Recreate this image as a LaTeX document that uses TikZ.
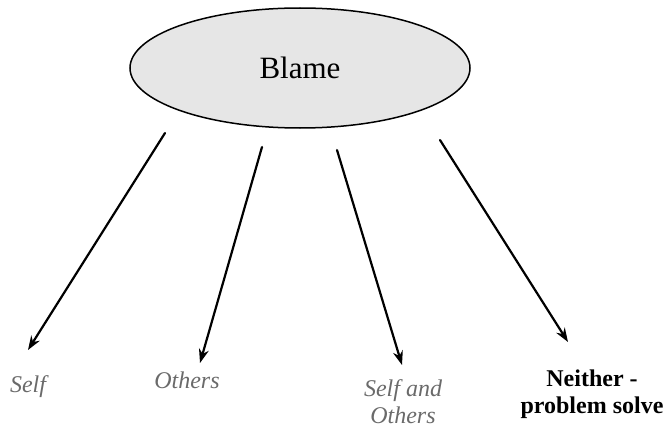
\documentclass[tikz,border=0pt]{standalone}
\usepackage{fontspec}
\setmainfont{Liberation Serif}
\usetikzlibrary{shapes.geometric,arrows.meta}
\definecolor{labelgray}{HTML}{6A6A6A}
\definecolor{blamefill}{HTML}{E6E6E6}

\begin{document}
\begin{tikzpicture}[x=1pt, y=-1pt,
                    >={Stealth[length=14pt,width=10pt]}, line cap=round,
                    hub/.style={ellipse, draw, line width=1.5pt, fill=blamefill,
                                minimum width=340pt, minimum height=120pt,
                                inner sep=0pt, font=\fontsize{31}{36}\selectfont},
                    who/.style={anchor=north, inner sep=0pt, align=center,
                                text=labelgray, font=\fontsize{24}{27}\selectfont\itshape},
                    none/.style={who, text=black, font=\fontsize{24}{27}\selectfont\bfseries},
                    link/.style={->, line width=2.2pt}
                   ]
\useasboundingbox (0,0) rectangle (667,428);

\node [hub] (blame) at (300,68) {Blame};

% where the arrows leave the ellipse
\coordinate (a1) at (165,133);
\coordinate (a2) at (262,147);
\coordinate (a3) at (337,150);
\coordinate (a4) at (440,140);

\node [who]  (self)    at (28,375)  {Self};
\node [who]  (others)  at (187,372) {Others};
\node [who]  (both)    at (403,379) {Self and\\Others};
\node [none] (neither) at (592,370) {Neither -\\problem solve};

\draw [link] (a1) -- ([yshift=25pt]self.north);
\draw [link] (a2) -- ([xshift=13pt,yshift=9pt]others.north);
\draw [link] (a3) -- ([xshift=-1pt,yshift=14pt]both.north);
\draw [link] (a4) -- ([xshift=-24pt,yshift=28pt]neither.north);
\end{tikzpicture}
\end{document}
